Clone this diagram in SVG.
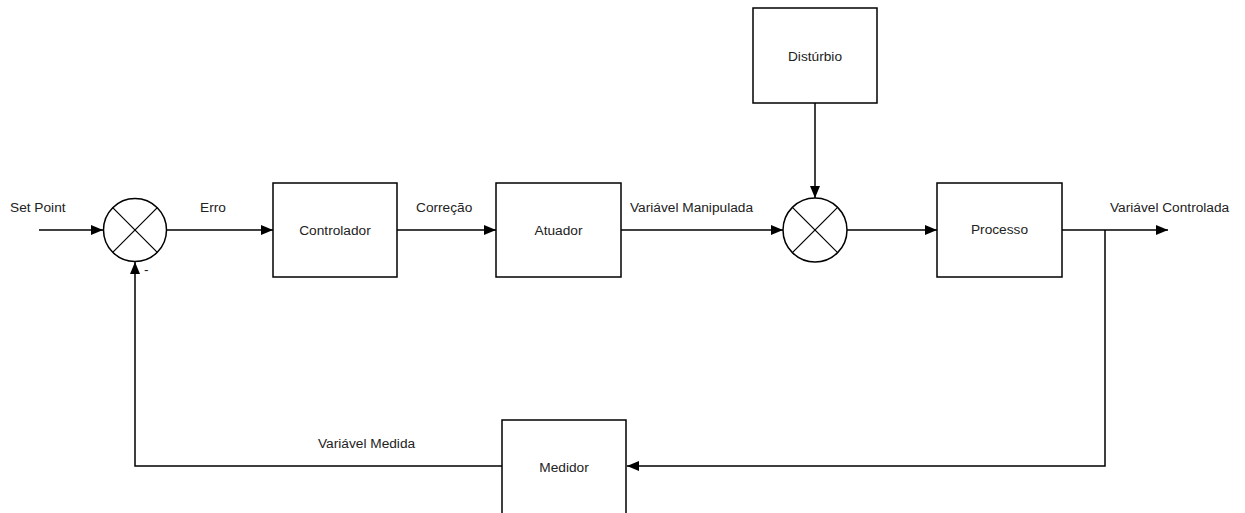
<svg xmlns="http://www.w3.org/2000/svg" width="1245" height="513" viewBox="0 0 1245 513">
  <style>
    .box { fill: #fff; stroke: #000; stroke-width: 1.5; }
    .sum { fill: #fff; stroke: #000; stroke-width: 1.5; }
    .x { stroke: #000; stroke-width: 1.2; }
    .wire { fill: none; stroke: #000; stroke-width: 1.5; }
    .lbl { font-family: "Liberation Sans", Arial, sans-serif; font-size: 13.7px; fill: #222; }
    .mid { text-anchor: middle; dominant-baseline: central; }
  </style>
  <defs>
    <marker id="arrow" viewBox="0 0 12 10" refX="12" refY="5" markerWidth="12" markerHeight="10" markerUnits="userSpaceOnUse" orient="auto">
      <path d="M0,0 L12,5 L0,10 Z" fill="#000"/>
    </marker>
  </defs>

  <rect width="1245" height="513" fill="#fff"/>

  <g id="connectors">
    <line class="wire" x1="39" y1="230" x2="103" y2="230" marker-end="url(#arrow)"/>
    <line class="wire" x1="166" y1="230" x2="273" y2="230" marker-end="url(#arrow)"/>
    <line class="wire" x1="397" y1="230" x2="496" y2="230" marker-end="url(#arrow)"/>
    <line class="wire" x1="621" y1="230" x2="783" y2="230" marker-end="url(#arrow)"/>
    <line class="wire" x1="815" y1="103" x2="815" y2="198" marker-end="url(#arrow)"/>
    <line class="wire" x1="847" y1="230" x2="937" y2="230" marker-end="url(#arrow)"/>
    <line class="wire" x1="1062" y1="230" x2="1168" y2="230" marker-end="url(#arrow)"/>
    <polyline class="wire" points="1105,230 1105,466 627,466" marker-end="url(#arrow)"/>
    <polyline class="wire" points="502,466 135,466 135,262" marker-end="url(#arrow)"/>
  </g>

  <g id="labels">
    <text class="lbl" x="10" y="212">Set Point</text>
    <text class="lbl" x="200" y="212">Erro</text>
    <text class="lbl" x="416" y="212">Correção</text>
    <text class="lbl" x="630" y="212">Variável Manipulada</text>
    <text class="lbl" x="1110" y="212">Variável Controlada</text>
    <text class="lbl" x="318" y="448">Variável Medida</text>
    <text class="lbl" x="144" y="274">-</text>
  </g>

  <g id="sum1">
    <circle class="sum" cx="135" cy="230" r="31.5"/>
    <line class="x" x1="112.7" y1="207.7" x2="157.3" y2="252.3"/>
    <line class="x" x1="157.3" y1="207.7" x2="112.7" y2="252.3"/>
  </g>

  <g id="controlador">
    <rect class="box" x="273" y="183" width="124" height="94"/>
    <text class="lbl mid" x="335" y="230">Controlador</text>
  </g>

  <g id="atuador">
    <rect class="box" x="496" y="183" width="125" height="94"/>
    <text class="lbl mid" x="558.5" y="230">Atuador</text>
  </g>

  <g id="disturbio">
    <rect class="box" x="753" y="8" width="124" height="95"/>
    <text class="lbl mid" x="815" y="56">Distúrbio</text>
  </g>

  <g id="sum2">
    <circle class="sum" cx="815" cy="230" r="32"/>
    <line class="x" x1="792.4" y1="207.4" x2="837.6" y2="252.6"/>
    <line class="x" x1="837.6" y1="207.4" x2="792.4" y2="252.6"/>
  </g>

  <g id="processo">
    <rect class="box" x="937" y="183" width="125" height="94"/>
    <text class="lbl mid" x="999.5" y="229">Processo</text>
  </g>

  <g id="medidor">
    <rect class="box" x="502" y="420" width="124" height="110"/>
    <text class="lbl mid" x="564" y="467">Medidor</text>
  </g>
</svg>
